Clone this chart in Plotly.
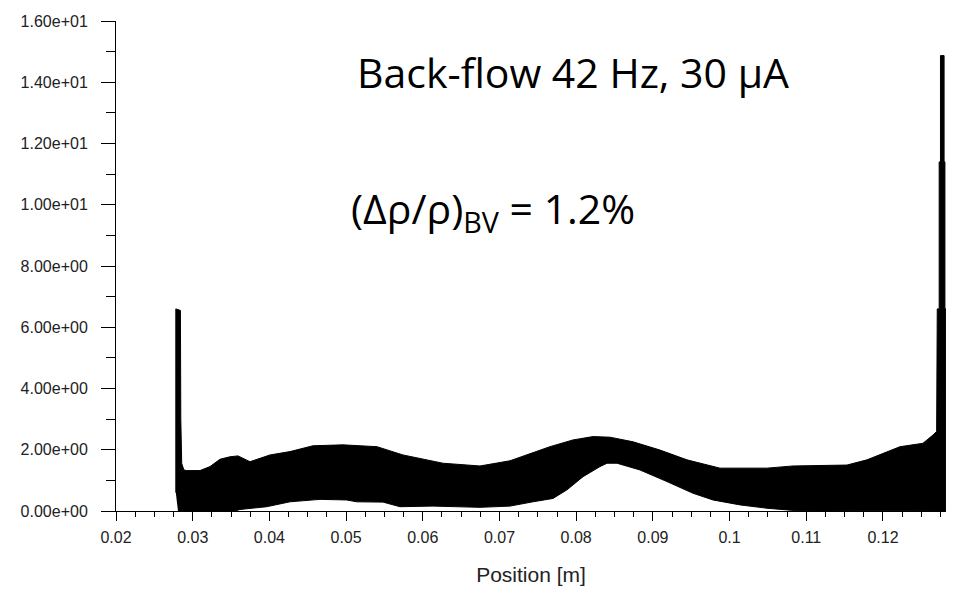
import plotly.graph_objects as go

# ---- data ----
# upper envelope of the oscillating band (position [m], value)
upper_x = [0.02780, 0.02780, 0.02840, 0.02845, 0.02857, 0.02885, 0.02922, 0.03095,
           0.03226, 0.03356, 0.03486, 0.03591, 0.03747, 0.04008, 0.04269, 0.04568,
           0.04960, 0.05403, 0.05742, 0.06263, 0.06746, 0.07137, 0.07658, 0.07958,
           0.08219, 0.08441, 0.08741, 0.09093, 0.09445, 0.09875, 0.10488, 0.10827,
           0.11531, 0.11791, 0.12222, 0.12521, 0.12652, 0.12700, 0.12708, 0.12733,
           0.12733, 0.12750, 0.12750, 0.12797, 0.12797, 0.12808, 0.12808, 0.12821]
upper_y = [0.60, 6.60, 6.55, 3.00, 1.55, 1.34, 1.32, 1.32,
           1.45, 1.69, 1.77, 1.80, 1.61, 1.83, 1.94, 2.13,
           2.16, 2.10, 1.83, 1.56, 1.47, 1.64, 2.10, 2.32,
           2.43, 2.41, 2.26, 1.99, 1.67, 1.40, 1.40, 1.47,
           1.50, 1.67, 2.10, 2.21, 2.48, 2.60, 6.60, 6.60,
           11.40, 11.40, 14.87, 14.87, 11.40, 11.40, 6.60, 6.60]

# lower envelope of the band
lower_x = [0.02808, 0.03551, 0.03617, 0.03965, 0.04269, 0.04660, 0.05008, 0.05138,
           0.05481, 0.05703, 0.06133, 0.06746, 0.07137, 0.07437, 0.07698, 0.07880,
           0.08089, 0.08311, 0.08402, 0.08532, 0.08832, 0.09184, 0.09523, 0.09784,
           0.10136, 0.10488, 0.10827, 0.12821]
lower_y = [0.00, 0.00, 0.05, 0.14, 0.30, 0.38, 0.36, 0.30,
           0.29, 0.14, 0.16, 0.12, 0.16, 0.30, 0.41, 0.69,
           1.12, 1.45, 1.56, 1.56, 1.34, 0.96, 0.58, 0.36,
           0.20, 0.09, 0.02, 0.00]

x_tickvals = [0.02, 0.03, 0.04, 0.05, 0.06, 0.07, 0.08, 0.09, 0.10, 0.11, 0.12]
x_ticktext = ["0.02", "0.03", "0.04", "0.05", "0.06", "0.07", "0.08", "0.09", "0.1", "0.11", "0.12"]
y_tickvals = [0, 2, 4, 6, 8, 10, 12, 14, 16]
y_ticktext = ["0.00e+00", "2.00e+00", "4.00e+00", "6.00e+00", "8.00e+00",
              "1.00e+01", "1.20e+01", "1.40e+01", "1.60e+01"]

title_text = "Back-flow 42 Hz, 30 µA"
ratio_text = "(Δρ/ρ)<sub>BV</sub> = 1.2%"
x_title = "Position [m]"

# ---- figure ----
poly_x = upper_x + lower_x[::-1]
poly_y = upper_y + lower_y[::-1]

fig = go.Figure()
fig.add_trace(go.Scatter(
    x=poly_x, y=poly_y, mode="lines", fill="toself",
    fillcolor="black", line=dict(color="black", width=1),
    hoverinfo="skip", showlegend=False,
))

tickfont = dict(family="Liberation Sans, Arial, sans-serif", size=16, color="#222222")

fig.update_layout(
    width=961, height=599,
    margin=dict(l=116, r=15, t=21, b=88, pad=0),
    paper_bgcolor="white", plot_bgcolor="white",
    showlegend=False,
    xaxis=dict(
        range=[0.02, 0.12822], showgrid=False, zeroline=False,
        showline=True, linecolor="black", linewidth=1,
        ticks="outside", ticklen=9, tickcolor="black", tickwidth=1,
        tickvals=x_tickvals, ticktext=x_ticktext, tickfont=tickfont,
        ticklabelstandoff=3,
        minor=dict(dtick=0.0025, tick0=0.02, ticks="outside", ticklen=5,
                   tickcolor="black", tickwidth=1, showgrid=False),
        title=dict(text=x_title, standoff=22,
                   font=dict(family="Liberation Sans, Arial, sans-serif", size=21, color="#222222")),
    ),
    yaxis=dict(
        range=[0, 16], showgrid=False, zeroline=False,
        showline=True, linecolor="black", linewidth=1,
        ticks="outside", ticklen=14, tickcolor="black", tickwidth=1,
        tickvals=y_tickvals, ticktext=y_ticktext, tickfont=tickfont,
        ticklabelstandoff=10,
        minor=dict(dtick=1, tick0=0, ticks="outside", ticklen=9,
                   tickcolor="black", tickwidth=1, showgrid=False),
    ),
    annotations=[
        dict(text=title_text, xref="paper", yref="paper", x=0.288, y=0.895,
             xanchor="left", yanchor="middle", showarrow=False,
             font=dict(family="Open Sans, sans-serif", size=41, color="black")),
        dict(text=ratio_text, xref="paper", yref="paper", x=0.281, y=0.613,
             xanchor="left", yanchor="middle", showarrow=False,
             font=dict(family="Open Sans, sans-serif", size=41, color="black")),
    ],
)

fig.write_html("out.html")
